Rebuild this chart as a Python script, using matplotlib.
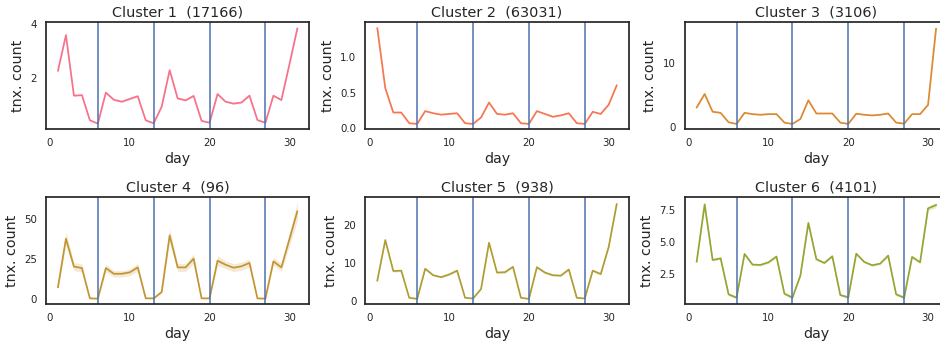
import matplotlib
matplotlib.use("Agg")
import matplotlib.pyplot as plt
import seaborn as sns

# daily mean transaction counts per customer cluster, with 95% CI half-widths
days = list(range(1, 32))
week_breaks = [6, 13, 20, 27]
cluster_ids = [1, 2, 3, 4, 5, 6]
cluster_sizes = [17166, 63031, 3106, 96, 938, 4101]

c1_mean = [2.28, 3.58, 1.37, 1.39, 0.47, 0.35, 1.48, 1.22, 1.15, 1.25, 1.35,
           0.47, 0.36, 0.97, 2.30, 1.27, 1.20, 1.36, 0.45, 0.38, 1.43, 1.15,
           1.08, 1.12, 1.37, 0.48, 0.38, 1.37, 1.21, 2.50, 3.82]
c1_ci = [0.04, 0.05, 0.03, 0.03, 0.02, 0.02, 0.03, 0.03, 0.03, 0.03, 0.03,
         0.02, 0.02, 0.03, 0.04, 0.03, 0.03, 0.03, 0.02, 0.02, 0.03, 0.03,
         0.03, 0.03, 0.03, 0.02, 0.02, 0.03, 0.03, 0.04, 0.06]

c2_mean = [1.40, 0.56, 0.22, 0.22, 0.07, 0.06, 0.24, 0.21, 0.19, 0.20, 0.21,
           0.07, 0.06, 0.15, 0.36, 0.20, 0.19, 0.21, 0.07, 0.06, 0.24, 0.20,
           0.16, 0.18, 0.21, 0.07, 0.06, 0.23, 0.20, 0.33, 0.60]
c2_ci = [0.02, 0.01, 0.005, 0.005, 0.003, 0.003, 0.005, 0.005, 0.005, 0.005,
         0.005, 0.003, 0.003, 0.004, 0.006, 0.005, 0.005, 0.005, 0.003, 0.003,
         0.005, 0.005, 0.004, 0.005, 0.005, 0.003, 0.003, 0.005, 0.005, 0.006,
         0.01]

c3_mean = [3.04, 5.15, 2.37, 2.20, 0.72, 0.46, 2.20, 2.00, 1.90, 2.00, 2.00,
           0.67, 0.46, 1.24, 4.17, 2.10, 2.10, 2.10, 0.67, 0.46, 2.06, 1.90,
           1.80, 1.90, 2.10, 0.67, 0.50, 2.00, 2.00, 3.45, 15.36]
c3_ci = [0.10, 0.15, 0.08, 0.08, 0.04, 0.03, 0.08, 0.07, 0.07, 0.07, 0.07,
         0.04, 0.03, 0.06, 0.12, 0.07, 0.07, 0.07, 0.04, 0.03, 0.07, 0.07,
         0.07, 0.07, 0.07, 0.04, 0.03, 0.07, 0.07, 0.10, 0.30]

c4_mean = [7.4, 37.8, 20.3, 19.4, 0.4, 0.2, 19.4, 15.8, 15.8, 16.7, 19.8,
           0.4, 0.4, 4.4, 39.9, 19.8, 19.8, 25.3, 0.4, 0.4, 24.0, 21.5,
           19.6, 20.5, 22.6, 0.4, 0.2, 23.6, 19.8, 37.3, 54.9]
c4_ci = [1.5, 4.0, 2.5, 2.5, 0.3, 0.3, 2.5, 2.0, 2.0, 2.0, 2.5,
         0.3, 0.3, 1.0, 4.0, 2.5, 2.5, 3.0, 0.3, 0.3, 3.0, 2.5,
         2.5, 2.5, 2.5, 0.3, 0.3, 2.5, 2.5, 4.0, 6.0]

c5_mean = [5.4, 16.0, 7.9, 8.0, 0.9, 0.6, 8.5, 6.8, 6.3, 7.0, 8.0,
           0.9, 0.7, 3.2, 15.3, 7.5, 7.6, 9.0, 0.9, 0.6, 8.9, 7.5,
           6.8, 6.7, 8.3, 0.9, 0.7, 8.0, 7.1, 14.2, 25.4]
c5_ci = [0.25, 0.45, 0.3, 0.3, 0.08, 0.06, 0.3, 0.25, 0.25, 0.25, 0.3,
         0.08, 0.06, 0.15, 0.45, 0.3, 0.3, 0.3, 0.08, 0.06, 0.3, 0.3,
         0.25, 0.25, 0.3, 0.08, 0.06, 0.3, 0.3, 0.4, 0.6]

c6_mean = [3.50, 7.96, 3.63, 3.76, 0.95, 0.70, 4.10, 3.27, 3.25, 3.45, 3.90,
           1.00, 0.70, 2.42, 6.52, 3.69, 3.40, 3.92, 0.90, 0.72, 4.12, 3.48,
           3.22, 3.35, 3.97, 0.95, 0.70, 3.87, 3.45, 7.65, 7.91]
c6_ci = [0.10, 0.20, 0.10, 0.10, 0.12, 0.12, 0.10, 0.09, 0.09, 0.09, 0.10,
         0.12, 0.12, 0.08, 0.16, 0.10, 0.09, 0.10, 0.12, 0.12, 0.10, 0.09,
         0.09, 0.09, 0.10, 0.12, 0.12, 0.10, 0.09, 0.18, 0.20]

means = [c1_mean, c2_mean, c3_mean, c4_mean, c5_mean, c6_mean]
cis = [c1_ci, c2_ci, c3_ci, c4_ci, c5_ci, c6_ci]

xticks = [0, 10, 20, 30]
yticks = [[2, 4], [0.0, 0.5, 1.0], [0, 10], [0, 25, 50], [0, 10, 20],
          [2.5, 5.0, 7.5]]

palette = sns.color_palette("husl", 20)[:6]
break_color = "#4c72b0"
text_color = "#262626"

plt.rcParams["font.family"] = ["DejaVu Sans"]

fig = plt.figure(figsize=(9.4, 3.43), dpi=100)
gs = fig.add_gridspec(2, 3, left=46 / 940, right=948 / 940,
                      top=1 - 22 / 343, bottom=1 - 304 / 343,
                      wspace=56 / 263, hspace=68 / 107)

for k in range(6):
    ax = fig.add_subplot(gs[k // 3, k % 3])
    mean = means[k]
    ci = cis[k]
    lo = [m - c for m, c in zip(mean, ci)]
    hi = [m + c for m, c in zip(mean, ci)]
    ax.fill_between(days, lo, hi, color=palette[k], alpha=0.2, linewidth=0)
    ax.plot(days, mean, color=palette[k], linewidth=1.25)
    for d in week_breaks:
        ax.axvline(d, color=break_color, linewidth=1.1)

    ax.set_xticks(xticks)
    ax.set_yticks(yticks[k])
    ax.tick_params(axis="both", length=0, pad=6.5, labelsize=7.4,
                   labelcolor=text_color)
    for sp in ax.spines.values():
        sp.set_color(text_color)
        sp.set_linewidth(1.25)
    ax.set_xlabel("day", fontsize=10.3, color=text_color, labelpad=3)
    ax.set_ylabel("tnx. count", fontsize=10.3, color=text_color, labelpad=4)
    ax.set_title(f"Cluster {cluster_ids[k]}  ({cluster_sizes[k]})",
                 fontsize=10.4, color=text_color, pad=4)

fig.savefig("out.png", dpi=100)
